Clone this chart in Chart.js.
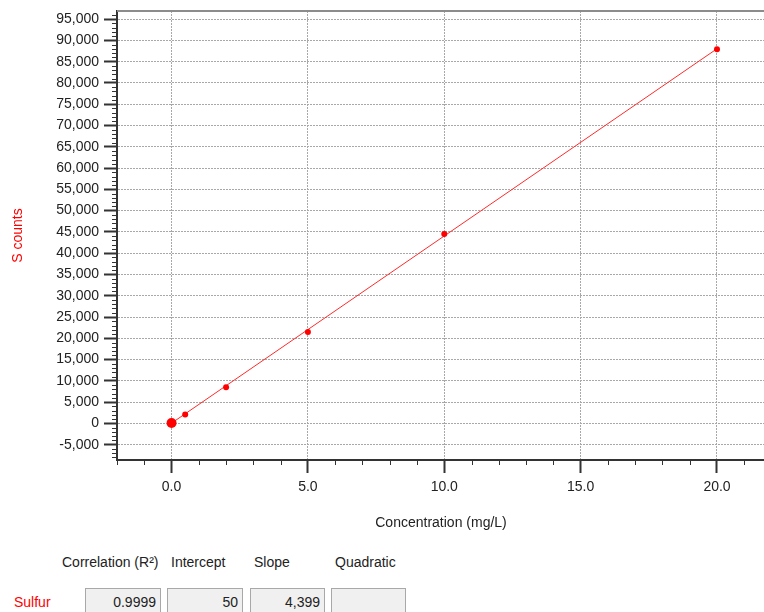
<!DOCTYPE html>
<html>
<head>
<meta charset="utf-8">
<script src="https://cdn.jsdelivr.net/npm/chart.js@4.4.1/dist/chart.umd.min.js"></script>
<style>
  html, body { margin: 0; padding: 0; background: #fff; overflow: hidden; width: 764px; height: 612px; }
  body { position: relative; font-family: "Liberation Sans", Arial, sans-serif; font-size: 14px; color: #222; }
  #c { position: absolute; left: 0; top: 0; }
  .hdr { position: absolute; top: 554px; white-space: nowrap; }
  .box { position: absolute; top: 588px; height: 30px; box-sizing: border-box; border: 1px solid #a8a8a8; background: #f0f0f0; text-align: right; padding: 5px 4px 0 0; }
  .lbl { position: absolute; left: 14px; top: 594px; color: #ff0000; }
</style>
</head>
<body>
<canvas id="c" width="770" height="540"></canvas>

<div class="hdr" id="h0" style="left:62px"></div>
<div class="hdr" id="h1" style="left:171px"></div>
<div class="hdr" id="h2" style="left:254px"></div>
<div class="hdr" id="h3" style="left:335px"></div>
<div class="lbl" id="elem"></div>
<div class="box" id="b0" style="left:85px;width:76px"></div>
<div class="box" id="b1" style="left:167px;width:76px"></div>
<div class="box" id="b2" style="left:250px;width:75px"></div>
<div class="box" id="b3" style="left:331px;width:75px"></div>

<script>
// ---- data ----
const elementName = 'Sulfur';
const concentrations = [0, 0.5, 2, 5, 10, 20];
const sCounts = [100, 2100, 8500, 21500, 44500, 87900];
const fitX = [0, 20];
const fitY = [50, 88030];
const xTicks = [0, 5, 10, 15, 20];
const yTicks = [-5000, 0, 5000, 10000, 15000, 20000, 25000, 30000, 35000, 40000, 45000, 50000,
                55000, 60000, 65000, 70000, 75000, 80000, 85000, 90000, 95000];
const xRange = [-2, 21.76];
const yRange = [-8600, 96900];
const xMinorStep = 1;
const yMinorStep = 1000;
const statHeaders = ['Correlation (R\u00B2)', 'Intercept', 'Slope', 'Quadratic'];
const statValues = ['0.9999', '50', '4,399', ''];
const xTitle = 'Concentration (mg/L)';
const yTitle = 'S counts';

// ---- table text ----
statHeaders.forEach((t, i) => document.getElementById('h' + i).textContent = t);
statValues.forEach((t, i) => document.getElementById('b' + i).textContent = t);
document.getElementById('elem').textContent = elementName;

const FONT = 'Liberation Sans';

const extras = {
  id: 'extras',
  afterDraw(chart) {
    const { ctx, chartArea, scales: { x, y } } = chart;
    ctx.save();
    ctx.strokeStyle = '#333';
    ctx.lineWidth = 1;
    ctx.beginPath();
    for (let v = Math.ceil(x.min); v <= x.max; v += xMinorStep) {
      if (xTicks.includes(v)) continue;
      const px = Math.round(x.getPixelForValue(v)) + 0.5;
      ctx.moveTo(px, chartArea.bottom);
      ctx.lineTo(px, chartArea.bottom + 5);
    }
    for (let v = Math.ceil(y.min / yMinorStep) * yMinorStep; v <= y.max; v += yMinorStep) {
      if (yTicks.includes(v)) continue;
      const py = Math.round(y.getPixelForValue(v)) + 0.5;
      ctx.moveTo(chartArea.left - 5, py);
      ctx.lineTo(chartArea.left, py);
    }
    ctx.stroke();
    ctx.strokeStyle = '#8c8c8c';
    ctx.lineWidth = 2;
    ctx.beginPath();
    ctx.moveTo(chartArea.left, chartArea.top);
    ctx.lineTo(chartArea.right, chartArea.top);
    ctx.stroke();
    ctx.restore();
  }
};

new Chart(document.getElementById('c'), {
  type: 'scatter',
  data: {
    datasets: [
      {
        label: elementName,
        data: concentrations.map((c, i) => ({ x: c, y: sCounts[i] })),
        backgroundColor: '#ff0000',
        borderColor: '#ff0000',
        borderWidth: 0,
        pointRadius: (ctx) => ctx.dataIndex === 0 ? 5 : 3,
        pointHoverRadius: 3,
        order: 0
      },
      {
        label: 'fit',
        data: fitX.map((c, i) => ({ x: c, y: fitY[i] })),
        showLine: true,
        borderColor: '#ff2a2a',
        borderWidth: 1,
        pointRadius: 0,
        order: 1
      }
    ]
  },
  options: {
    responsive: false,
    animation: false,
    devicePixelRatio: 1,
    layout: { padding: { top: 11, left: 0, right: 0, bottom: 0 } },
    plugins: { legend: { display: false }, tooltip: { enabled: false } },
    scales: {
      x: {
        type: 'linear',
        min: xRange[0],
        max: xRange[1],
        afterBuildTicks: (s) => { s.ticks = xTicks.map(v => ({ value: v })); },
        afterFit: (s) => { s.height = 80; s.paddingLeft = 0; s.paddingRight = 0; },
        ticks: {
          callback: (v) => Number(v).toFixed(1),
          font: { family: FONT, size: 14 },
          color: '#222',
          padding: 6,
          maxRotation: 0
        },
        grid: {
          color: '#a8a8a8',
          lineWidth: 1,
          tickLength: 13,
          tickColor: '#333',
          tickWidth: 2
        },
        border: { display: true, color: '#333', width: 2, dash: [2, 1] },
        title: {
          display: true,
          text: xTitle,
          font: { family: FONT, size: 14 },
          color: '#222',
          padding: { top: 0, bottom: 8 }
        }
      },
      y: {
        type: 'linear',
        min: yRange[0],
        max: yRange[1],
        afterBuildTicks: (s) => { s.ticks = yTicks.map(v => ({ value: v })); },
        afterFit: (s) => { s.width = 117; s.paddingTop = 0; s.paddingBottom = 0; },
        ticks: {
          callback: (v) => Number(v).toLocaleString('en-US'),
          font: { family: FONT, size: 14 },
          color: '#222',
          padding: 5
        },
        grid: {
          color: '#a8a8a8',
          lineWidth: 1,
          tickLength: 13,
          tickColor: '#333',
          tickWidth: 2
        },
        border: { display: true, color: '#333', width: 2, dash: [2, 1] },
        title: {
          display: true,
          text: yTitle,
          font: { family: FONT, size: 14 },
          color: '#ff0000',
          padding: { top: 10, bottom: 0 }
        }
      }
    }
  },
  plugins: [extras]
});
</script>
</body>
</html>
